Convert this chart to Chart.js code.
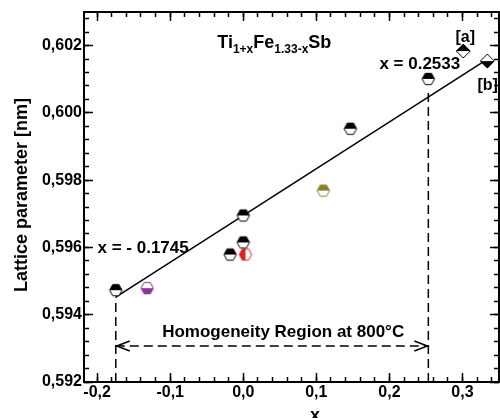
<!DOCTYPE html>
<html>
<head>
<meta charset="utf-8">
<script src="https://cdn.jsdelivr.net/npm/chart.js@4.4.0/dist/chart.umd.min.js"></script>
<style>
  html, body { margin: 0; padding: 0; background: #fff; }
  #wrap { width: 500px; height: 418px; }
</style>
</head>
<body>
<div id="wrap"><canvas id="latticeChart" width="500" height="418"></canvas></div>
<script>
// ===== DATA =====
const sampleX = [-0.1745, -0.018, 0.0, 0.0, 0.1466, 0.2533];
const sampleY = [0.59473, 0.59579, 0.59615, 0.59695, 0.59953, 0.60101];
const purpleX = [-0.1315];
const purpleY = [0.59479];
const redX = [0.003];
const redY = [0.59579];
const oliveX = [0.1096];
const oliveY = [0.59769];
const refAX = [0.301];
const refAY = [0.60184];
const refBX = [0.334];
const refBY = [0.60154];
const fitX = [-0.1745, 0.33];
const fitY = [0.59452, 0.60154];
const boundX = [-0.1745, 0.2533];
const boundTopY = [0.59452, 0.6007];
const arrowY = 0.59307;
const xTicks = [-0.2, -0.1, 0.0, 0.1, 0.2, 0.3];
const yTicks = [0.592, 0.594, 0.596, 0.598, 0.600, 0.602];
const xRange = [-0.218, 0.35];
const yRange = [0.592, 0.603];

const FONT = "'Liberation Sans', Arial, sans-serif";

// minor tick positions (every 0.02 on x, every 0.0004 on y)
const xMinor = [];
for (let k = Math.ceil(xRange[0] * 50 - 1e-6); k <= Math.floor(xRange[1] * 50 + 1e-6); k++) xMinor.push(k / 50);
const yMinor = [];
for (let k = Math.ceil(yRange[0] * 2500 - 1e-6); k <= Math.floor(yRange[1] * 2500 + 1e-6); k++) yMinor.push(k / 2500);

function pts(xs, ys) {
  return xs.map((x, i) => ({ x: x, y: ys[i] }));
}

// ===== MARKERS =====
function hexMarker(fillA, fillB, stroke, vertical) {
  const s = 16, c = document.createElement('canvas');
  c.width = s; c.height = s;
  const ctx = c.getContext('2d');
  const r = 6.2, cx = s / 2, cy = s / 2;
  const path = () => {
    ctx.beginPath();
    for (let i = 0; i < 6; i++) {
      const a = Math.PI / 3 * i;
      ctx.lineTo(cx + r * Math.cos(a), cy + r * 1.05 * Math.sin(a));
    }
    ctx.closePath();
  };
  path(); ctx.fillStyle = fillB; ctx.fill();
  ctx.save(); path(); ctx.clip();
  ctx.fillStyle = fillA;
  if (vertical) ctx.fillRect(0, 0, cx, s); else ctx.fillRect(0, 0, s, cy);
  ctx.restore();
  path(); ctx.lineWidth = 1; ctx.strokeStyle = stroke; ctx.stroke();
  return c;
}

function diamondMarker(topFill, bottomFill) {
  const s = 18, c = document.createElement('canvas');
  c.width = s; c.height = s;
  const ctx = c.getContext('2d');
  const r = 7, cx = s / 2, cy = s / 2;
  const path = () => {
    ctx.beginPath();
    ctx.moveTo(cx, cy - r); ctx.lineTo(cx + r, cy);
    ctx.lineTo(cx, cy + r); ctx.lineTo(cx - r, cy);
    ctx.closePath();
  };
  path(); ctx.fillStyle = bottomFill; ctx.fill();
  ctx.save(); path(); ctx.clip();
  ctx.fillStyle = topFill; ctx.fillRect(0, 0, s, cy);
  ctx.restore();
  path(); ctx.lineWidth = 1; ctx.strokeStyle = '#000'; ctx.stroke();
  return c;
}

// ===== DECORATION PLUGIN =====
const decoPlugin = {
  id: 'deco',
  afterDraw(chart) {
    const ctx = chart.ctx;
    const a = chart.chartArea;
    const x = chart.scales.x;
    const y = chart.scales.y;
    ctx.save();
    ctx.strokeStyle = '#000';
    ctx.fillStyle = '#000';
    ctx.setLineDash([]);

    // frame
    ctx.lineWidth = 2;
    ctx.strokeRect(a.left, a.top, a.right - a.left, a.bottom - a.top);

    // arrowheads on the homogeneity arrow
    const ay = y.getPixelForValue(arrowY);
    const x0 = x.getPixelForValue(boundX[0]);
    const x1 = x.getPixelForValue(boundX[1]);
    ctx.lineWidth = 1.5;
    ctx.beginPath();
    ctx.moveTo(x0 + 14, ay - 5); ctx.lineTo(x0 + 1, ay); ctx.lineTo(x0 + 14, ay + 5);
    ctx.moveTo(x1 - 14, ay - 5); ctx.lineTo(x1 - 1, ay); ctx.lineTo(x1 - 14, ay + 5);
    ctx.stroke();

    // texts
    ctx.textBaseline = 'alphabetic';
    ctx.textAlign = 'left';
    ctx.font = 'bold 17px ' + FONT;
    ctx.fillText('x = - 0.1745', x.getPixelForValue(-0.1995), y.getPixelForValue(0.59585));
    ctx.fillText('x = 0.2533', x.getPixelForValue(0.1863), y.getPixelForValue(0.6013));
    ctx.fillText('Homogeneity Region at 800°C', x.getPixelForValue(-0.111), y.getPixelForValue(0.59333));
    ctx.font = 'bold 16px ' + FONT;
    ctx.fillText('[a]', x.getPixelForValue(0.2904), y.getPixelForValue(0.6021));
    ctx.fillText('[b]', x.getPixelForValue(0.3205), y.getPixelForValue(0.60068));

    // formula title with subscripts
    let tx = x.getPixelForValue(-0.0356);
    const ty = y.getPixelForValue(0.60193);
    const parts = [['Ti', 0], ['1+x', 1], ['Fe', 0], ['1.33-x', 1], ['Sb', 0]];
    parts.forEach(([t, sub]) => {
      ctx.font = sub ? 'bold 12px ' + FONT : 'bold 18px ' + FONT;
      ctx.fillText(t, tx, ty + (sub ? 5 : 0));
      tx += ctx.measureText(t).width;
    });

    // axis titles
    ctx.font = 'bold 18px ' + FONT;
    ctx.textAlign = 'center';
    ctx.fillText('x', 315, 421);
    ctx.save();
    ctx.translate(27, 195);
    ctx.rotate(-Math.PI / 2);
    ctx.fillText('Lattice parameter [nm]', 0, 0);
    ctx.restore();

    ctx.restore();
  }
};

// ===== SCALES =====
function zeroPad(s) {
  s.paddingTop = 0; s.paddingBottom = 0; s.paddingLeft = 0; s.paddingRight = 0;
}

// tick-only axis: inward tick marks, no labels
function tickScale(axis, position, range, values, len, weight) {
  return {
    type: 'linear', axis: axis, position: position, min: range[0], max: range[1], weight: weight,
    grid: { display: true, drawOnChartArea: false, drawTicks: true, tickLength: -len, color: '#000', tickColor: '#000', tickWidth: 1.5 },
    border: { display: false },
    ticks: { display: false },
    afterBuildTicks: (s) => { s.ticks = values.map(v => ({ value: v })); },
    afterFit: (s) => { if (axis === 'x') s.height = 0; else s.width = 0; zeroPad(s); }
  };
}

// ===== CHART =====
const lineStyle = { type: 'line', showLine: true, pointRadius: 0, borderColor: '#000', borderWidth: 1.5, fill: false, xAxisID: 'x', yAxisID: 'y' };
const pointBase = { xAxisID: 'x', yAxisID: 'y', order: 1 };

new Chart(document.getElementById('latticeChart'), {
  type: 'scatter',
  data: {
    datasets: [
      Object.assign({ label: 'fit', data: pts(fitX, fitY), order: 5 }, lineStyle),
      Object.assign({ label: 'left bound', data: pts([boundX[0], boundX[0]], [yTicks[0], boundTopY[0]]), borderDash: [9, 5], order: 5 }, lineStyle),
      Object.assign({ label: 'right bound', data: pts([boundX[1], boundX[1]], [yTicks[0], boundTopY[1]]), borderDash: [9, 5], order: 5 }, lineStyle),
      Object.assign({ label: 'region', data: pts(boundX, [arrowY, arrowY]), borderDash: [9, 5], order: 5 }, lineStyle),
      Object.assign({ label: 'samples', data: pts(sampleX, sampleY), pointStyle: hexMarker('#000', '#fff', '#000', false), pointRadius: 6 }, pointBase),
      Object.assign({ label: 'purple', data: pts(purpleX, purpleY), pointStyle: hexMarker('#fff', '#8e3496', '#8e3496', false), pointRadius: 6 }, pointBase),
      Object.assign({ label: 'red', data: pts(redX, redY), pointStyle: hexMarker('#e02020', '#fff', '#e02020', true), pointRadius: 6 }, pointBase),
      Object.assign({ label: 'olive', data: pts(oliveX, oliveY), pointStyle: hexMarker('#85852e', '#fff', '#85852e', false), pointRadius: 6 }, pointBase),
      Object.assign({ label: '[a]', data: pts(refAX, refAY), pointStyle: diamondMarker('#000', '#fff'), pointRadius: 7 }, pointBase),
      Object.assign({ label: '[b]', data: pts(refBX, refBY), pointStyle: diamondMarker('#fff', '#000'), pointRadius: 7 }, pointBase)
    ]
  },
  options: {
    responsive: false,
    animation: false,
    devicePixelRatio: 1,
    layout: { autoPadding: false, padding: { left: 0, right: 1, top: 12, bottom: 0 } },
    plugins: { legend: { display: false }, tooltip: { enabled: false } },
    scales: {
      x: {
        type: 'linear', axis: 'x', position: 'bottom', min: xRange[0], max: xRange[1], weight: 1,
        grid: { display: true, drawOnChartArea: false, drawTicks: true, tickLength: -9, color: '#000', tickColor: '#000', tickWidth: 1.5 },
        border: { display: false },
        afterBuildTicks: (s) => { s.ticks = xTicks.map(v => ({ value: v })); },
        afterFit: (s) => { s.height = 36; zeroPad(s); },
        ticks: {
          color: '#000', padding: 10, maxRotation: 0,
          font: { family: FONT, size: 16, weight: 'bold' },
          callback: (v) => v.toFixed(1).replace('.', ',').replace('-0,0', '0,0')
        }
      },
      y: {
        type: 'linear', axis: 'y', position: 'left', min: yRange[0], max: yRange[1], weight: 1,
        grid: { display: true, drawOnChartArea: false, drawTicks: true, tickLength: -9, color: '#000', tickColor: '#000', tickWidth: 1.5 },
        border: { display: false },
        afterBuildTicks: (s) => { s.ticks = yTicks.map(v => ({ value: v })); },
        afterFit: (s) => { s.width = 84; zeroPad(s); },
        ticks: {
          color: '#000', padding: 11,
          font: { family: FONT, size: 16, weight: 'bold' },
          callback: (v) => v.toFixed(3).replace('.', ',')
        }
      },
      xMinB: tickScale('x', 'bottom', xRange, xMinor, 5, 0),
      xMajT: tickScale('x', 'top', xRange, xTicks, 9, 0),
      xMinT: tickScale('x', 'top', xRange, xMinor, 5, 1),
      yMinL: tickScale('y', 'left', yRange, yMinor, 5, 0),
      yMajR: tickScale('y', 'right', yRange, yTicks, 9, 0),
      yMinR: tickScale('y', 'right', yRange, yMinor, 5, 1)
    }
  },
  plugins: [decoPlugin]
});
</script>
</body>
</html>
